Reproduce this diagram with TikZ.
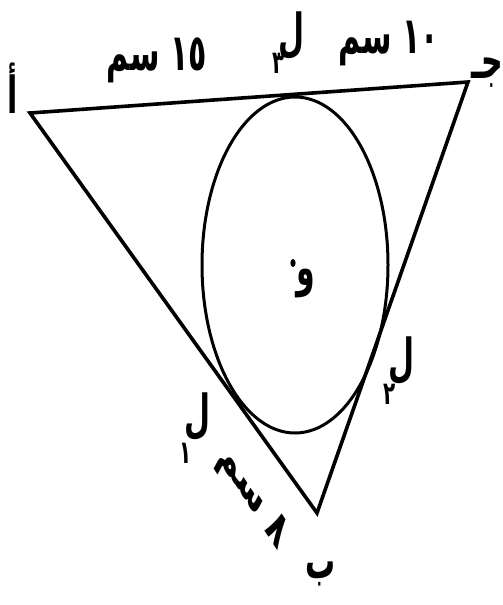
\documentclass[tikz,border=0pt]{standalone}
\usepackage{fontspec}
\TeXXeTstate=1
\newfontfamily\arfont[Script=Arabic]{DejaVu Sans}
\begin{document}
\begin{tikzpicture}[x=1pt,y=-1pt,
  lbl/.style={font=\arfont\bfseries\fontsize{30}{34}\selectfont, inner sep=0pt, yscale=1.7},
  sub/.style={font=\arfont\bfseries\fontsize{20}{22}\selectfont, inner sep=0pt, yscale=1.6},
  side/.style={line width=3.6pt, line join=miter},
  circ/.style={line width=3pt}]
\useasboundingbox (0,0) rectangle (503,605);
% vertices
\coordinate (A) at (30,113);
\coordinate (C) at (468,82);
\coordinate (B) at (317,513);
\coordinate (O) at (295,265);
% triangle and inscribed circle
\draw[side] (A) -- (B) -- (C) -- cycle;
\draw[circ] (O) ellipse [x radius=93pt, y radius=168pt];
% centre
\fill (293,263) ellipse [x radius=2.6pt, y radius=4pt];
\node[lbl] (w) at (306,284) {\beginR و\endR};
% vertex labels
\node[lbl] (la) at (13,88) {\beginR أ\endR};
\node[lbl] (lb) at (321,574) {\beginR ب\endR};
\node[lbl] (lc) at (487,73) {\beginR جـ\endR};
% tangent points
\node[lbl] (l3) at (292,36) {\beginR ل\endR};
\node[sub] (s3) at (279,63) {٣};
\node[lbl] (l2) at (402,361) {\beginR ل\endR};
\node[sub] (s2) at (390,394) {٢};
\node[lbl] (l1) at (198,417) {\beginR ل\endR};
\node[sub] (s1) at (186,453) {١};
% lengths
\node[lbl] (d15) at (157,60) {\beginR ١٥ سم\endR};
\node[lbl] (d10) at (389,44) {\beginR ١٠ سم\endR};
\node[lbl, rotate=-42] (d8) at (252,497) {\beginR ٨ سم\endR};
\end{tikzpicture}
\end{document}
